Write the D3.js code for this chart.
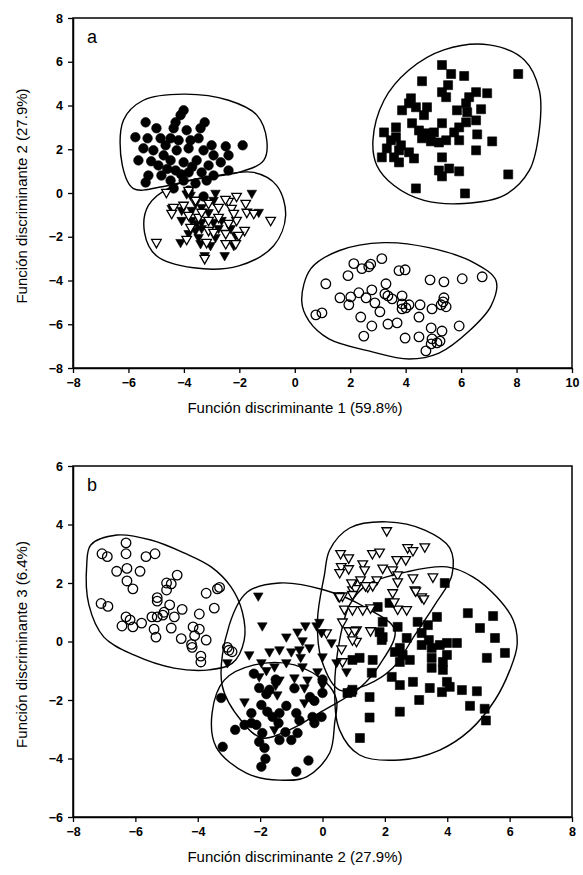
<!DOCTYPE html>
<html>
<head>
<meta charset="utf-8">
<script src="https://cdnjs.cloudflare.com/ajax/libs/d3/7.8.5/d3.min.js"></script>
<style>
    body { margin: 0; background: #fff; }
    text { font-family: Arial, "Liberation Sans", sans-serif; fill: #000; }
</style>
</head>
<body>
<div id="chart"></div>
<script>
(function () {
    'use strict';

    // ---- panel a : función 1 vs función 2 ----
    var aTicksX = [-8, -6, -4, -2, 0, 2, 4, 6, 8, 10];
    var aTicksY = [-8, -6, -4, -2, 0, 2, 4, 6, 8];

    var aFilledCircles = [
        [-4.01, 3.78], [-4.12, 3.56], [-5.38, 3.23], [-3.25, 3.23], [-4.3, 3.23], [-4.99, 2.96],
        [-3.4, 2.96], [-4.37, 2.96], [-3.9, 2.87], [-5.75, 2.55], [-5.31, 2.5], [-4.84, 2.5],
        [-4.48, 2.5], [-3.47, 2.5], [-3.0, 2.18], [-2.49, 2.13], [-1.88, 2.18], [-5.46, 2.04],
        [-5.1, 1.95], [-4.73, 1.72], [-4.26, 1.95], [-3.83, 2.04], [-3.29, 1.95], [-2.93, 1.72],
        [-4.92, 1.26], [-4.48, 1.49], [-4.01, 1.4], [-3.54, 1.49], [-3.11, 1.26], [-2.67, 1.4],
        [-5.28, 0.8], [-4.81, 0.8], [-4.3, 1.03], [-3.83, 0.94], [-3.36, 0.94], [-2.93, 0.8],
        [-2.39, 1.03], [-5.38, 0.48], [-4.48, 0.57], [-4.01, 0.57], [-3.58, 0.44], [-3.18, 0.57],
        [-4.37, 0.21], [-3.83, 0.11], [-2.39, 1.72], [-4.66, 2.18], [-4.19, 2.41], [-3.76, 2.41],
        [-5.64, 1.49], [-5.18, 1.45], [-3.29, -0.16], [-4.6, 1.1], [-3.7, 1.2], [-4.1, 0.85]
    ];
    var aFilledTriangles = [
        [-3.76, -0.11], [-3.9, -0.05], [-1.55, -0.02], [-2.86, -0.02], [-2.93, -0.34], [-3.58, -0.48],
        [-3.36, -0.67], [-4.08, -0.8], [-4.44, -0.71], [-1.3, -0.89], [-4.08, -1.26], [-3.72, -1.26],
        [-3.36, -1.35], [-2.93, -1.35], [-2.64, -1.26], [-3.58, -1.72], [-3.36, -1.63], [-2.75, -1.63],
        [-2.31, -1.63], [-3.83, -1.86], [-3.47, -2.04], [-2.86, -2.04], [-2.13, -1.95], [-4.12, -2.27],
        [-3.4, -2.32], [-3.04, -2.41], [-2.2, -2.41], [-3.25, -2.87], [-2.53, -2.87], [-3.72, -0.8],
        [-3.11, -0.9], [-3.54, -1.4]
    ];
    var aOpenTriangles = [
        [-4.63, 0.02], [-3.83, 0.11], [-2.1, -0.16], [-2.39, -0.39], [-2.5, -0.3], [-4.37, -0.67],
        [-4.01, -0.57], [-3.11, -0.48], [-2.75, -0.67], [-2.28, -0.71], [-1.73, -0.89], [-1.48, -0.94],
        [-0.87, -1.26], [-3.11, -1.26], [-3.47, -1.12], [-2.1, -1.26], [-2.39, -1.4], [-3.76, -1.58],
        [-3.11, -1.72], [-1.81, -1.72], [-2.02, -1.95], [-2.49, -1.86], [-4.99, -2.27], [-3.9, -2.13],
        [-3.18, -2.27], [-2.49, -2.32], [-2.13, -2.32], [-3.25, -3.0], [-3.58, -0.34], [-2.93, -1.81],
        [-2.2, -0.94], [-2.75, -1.12], [-3.36, -0.89], [-3.83, -1.03], [-4.44, -0.94], [-1.77, -0.48]
    ];
    var aSquares = [
        [5.31, 5.85], [5.64, 5.44], [6.11, 5.35], [4.59, 5.11], [8.06, 5.44], [5.53, 4.93],
        [5.31, 4.61], [5.46, 4.38], [6.54, 4.61], [6.94, 4.56], [6.29, 4.38], [6.18, 4.1],
        [4.19, 4.33], [4.12, 4.1], [3.87, 3.78], [4.37, 3.92], [4.77, 3.92], [4.66, 3.56],
        [5.85, 3.78], [6.22, 3.69], [6.72, 3.83], [6.54, 3.32], [6.18, 3.23], [5.93, 3.0],
        [5.31, 3.19], [4.23, 3.19], [5.75, 2.77], [3.22, 2.77], [3.65, 3.0], [4.48, 2.86],
        [4.73, 2.73], [5.02, 2.77], [4.59, 2.5], [4.91, 2.36], [5.2, 2.31], [5.46, 2.41],
        [5.93, 2.41], [6.58, 2.68], [7.12, 2.36], [3.47, 2.41], [3.65, 2.55], [3.83, 2.18],
        [3.32, 2.04], [3.76, 1.95], [4.12, 1.86], [3.14, 1.63], [3.58, 1.63], [4.3, 1.58],
        [3.76, 1.4], [6.54, 1.95], [5.31, 1.63], [5.2, 1.03], [5.57, 1.12], [5.93, 0.99],
        [5.31, 0.76], [7.7, 0.85], [4.37, 0.21], [6.14, -0.02]
    ];
    var aOpenCircles = [
        [3.14, -3.0], [2.13, -3.23], [2.42, -3.46], [2.67, -3.37], [2.74, -3.25], [1.92, -3.78],
        [3.76, -3.55], [3.98, -3.51], [1.12, -4.15], [3.29, -4.15], [4.88, -3.97], [5.38, -4.06],
        [6.04, -3.92], [6.76, -3.83], [1.63, -4.79], [2.02, -4.75], [2.31, -4.56], [2.57, -4.79],
        [2.78, -4.43], [3.25, -4.61], [3.36, -4.7], [3.51, -4.84], [3.87, -4.7], [2.89, -5.02],
        [1.95, -5.11], [3.87, -5.07], [3.87, -5.3], [4.01, -5.25], [4.12, -5.11], [4.52, -5.11],
        [3.07, -5.43], [4.95, -5.3], [5.28, -5.11], [5.38, -4.79], [5.46, -5.2], [5.35, -4.98],
        [0.76, -5.57], [0.98, -5.48], [2.38, -5.67], [4.48, -5.67], [2.78, -6.08], [3.36, -5.99],
        [3.69, -5.94], [4.92, -6.17], [5.93, -6.08], [5.31, -6.31], [2.49, -6.54], [3.98, -6.63],
        [4.48, -6.58], [4.95, -6.67], [5.24, -6.77], [5.13, -6.85], [4.92, -6.9], [4.73, -7.22]
    ];

    // contornos de grupo (coordenadas de datos)
    var aHullCircles = [
        [-6.18, 3.33], [-5.46, 4.24], [-4.01, 4.52], [-2.39, 4.24], [-1.37, 3.56], [-1.01, 2.41],
        [-1.12, 1.49], [-2.02, 0.94], [-3.47, 0.67], [-4.73, 0.3], [-5.82, 0.2], [-6.22, 1.26]
    ];
    var aHullTriangles = [
        [-5.28, -0.57], [-4.37, 0.34], [-2.93, 0.76], [-1.48, 0.94], [-0.65, 0.34], [-0.33, -1.03],
        [-0.76, -2.41], [-2.02, -3.33], [-3.65, -3.42], [-4.99, -2.87], [-5.42, -1.81]
    ];
    var aHullSquares = [
        [2.82, 2.41], [3.22, 4.24], [4.12, 5.62], [5.38, 6.54], [7.01, 6.77], [8.28, 6.08],
        [8.82, 4.7], [8.82, 2.87], [8.46, 1.03], [7.55, -0.11], [6.11, -0.48], [4.66, -0.34],
        [3.58, 0.34], [2.96, 1.26]
    ];
    var aHullOpen = [
        [0.25, -4.93], [0.58, -3.46], [1.59, -2.64], [3.22, -2.27], [4.84, -2.5], [6.47, -3.19],
        [7.26, -4.01], [7.08, -5.16], [6.29, -6.31], [5.2, -7.32], [4.12, -7.59], [2.67, -7.22],
        [1.23, -6.67], [0.51, -5.85]
    ];

    // ---- panel b : función 2 vs función 3 ----
    var bTicksX = [-8, -6, -4, -2, 0, 2, 4, 6, 8];
    var bTicksY = [-6, -4, -2, 0, 2, 4, 6];

    var bOpenCircles = [
        [-6.3, 3.37], [-7.07, 3.0], [-6.9, 2.9], [-6.3, 3.0], [-5.66, 2.9], [-5.37, 3.0],
        [-6.6, 2.4], [-6.27, 2.5], [-5.85, 2.4], [-6.27, 2.07], [-6.08, 1.8], [-4.66, 2.27],
        [-5.0, 2.0], [-4.85, 1.97], [-5.0, 1.76], [-5.3, 1.5], [-5.3, 1.38], [-7.1, 1.3],
        [-6.88, 1.2], [-4.9, 1.25], [-4.5, 1.1], [-5.08, 1.0], [-5.3, 0.84], [-5.47, 0.84],
        [-5.12, 0.9], [-4.75, 0.84], [-6.3, 0.84], [-6.17, 0.74], [-6.43, 0.53], [-6.08, 0.5],
        [-5.8, 0.63], [-5.4, 0.42], [-5.34, 0.15], [-4.85, 0.46], [-4.53, 0.1], [-4.15, 0.5],
        [-3.95, 0.42], [-4.1, 0.2], [-3.95, 0.94], [-3.73, 0.05], [-3.73, 1.65], [-3.37, 1.8],
        [-3.3, 1.85], [-3.47, 1.14], [-4.2, -0.1], [-3.05, -0.2], [-4.18, -0.2], [-3.9, -0.5],
        [-3.9, -0.7], [-3.0, -0.3], [-2.9, -0.35]
    ];
    var bOpenTriangles = [
        [2.06, 3.78], [3.28, 3.23], [2.73, 3.2], [2.9, 3.1], [1.6, 3.0], [1.83, 3.05],
        [0.58, 3.0], [0.84, 2.85], [2.38, 2.79], [2.67, 2.79], [1.29, 2.65], [0.6, 2.55],
        [0.84, 2.48], [1.35, 2.44], [1.93, 2.5], [2.25, 2.44], [2.41, 2.27], [2.9, 2.17],
        [3.54, 2.2], [1.74, 2.1], [1.22, 2.1], [0.96, 1.97], [2.41, 2.03], [1.45, 1.86],
        [2.96, 1.76], [0.96, 1.76], [2.25, 1.66], [0.51, 1.55], [3.18, 1.52], [2.99, 1.72],
        [3.25, 1.45], [2.7, 1.08], [2.41, 1.1], [2.3, 1.35], [1.61, 1.9], [1.38, 1.9],
        [1.06, 1.8], [0.93, 2.0], [0.55, 2.35], [1.54, 1.14], [0.64, 1.55], [0.7, 1.1],
        [0.96, 1.08], [1.29, 1.08], [1.09, 0.39], [0.84, 0.36], [1.54, 0.36], [1.09, 0.0],
        [0.61, -0.26], [0.55, 1.53], [0.96, 1.6], [0.64, 0.66], [1.03, 0.36], [0.13, 0.29],
        [0.96, 0.05], [0.64, -0.7]
    ];
    var bFilledTriangles = [
        [-2.06, 1.55], [-1.93, 0.53], [-0.55, 0.53], [-0.8, 0.32], [-1.16, 0.15], [-0.64, 0.02],
        [-0.19, 0.53], [-0.03, 0.3], [0.29, -0.05], [-2.35, -0.46], [-3.05, -0.73], [-1.7, -0.36],
        [-1.38, -0.29], [-1.0, -0.36], [-0.74, -0.29], [-0.42, -0.22], [0.0, -0.53], [-1.96, -0.73],
        [-1.54, -0.87], [-1.16, -0.73], [-0.64, -0.87], [-0.16, -1.04], [0.45, -0.73], [0.77, -1.04],
        [-2.03, -1.21], [-1.38, -1.32], [-0.9, -1.25], [-0.48, -1.32], [0.0, -1.49], [-2.5, -2.07],
        [-1.45, -1.83], [-0.58, -1.59], [-0.58, -2.1], [-1.54, -3.02], [-1.5, -1.5], [-0.1, 0.65],
        [-0.7, -0.55], [-1.8, -1.0]
    ];
    var bFilledCircles = [
        [-3.25, -1.93], [-3.2, -3.6], [-2.8, -3.02], [-2.5, -2.85], [-2.28, -2.79], [-2.12, -2.85],
        [-2.28, -2.45], [-1.96, -2.17], [-1.77, -2.4], [-1.6, -2.58], [-1.38, -2.45], [-1.16, -2.2],
        [-1.41, -2.79], [-1.93, -3.13], [-2.03, -3.43], [-1.86, -3.64], [-1.83, -4.01], [-1.96, -4.28],
        [-1.38, -3.37], [-1.0, -3.37], [-1.19, -3.1], [-0.8, -3.13], [-0.84, -2.45], [-0.74, -2.7],
        [-0.32, -2.58], [-0.03, -2.58], [-0.26, -2.79], [-0.26, -2.03], [0.0, -1.76], [-2.03, -1.59],
        [-1.7, -1.65], [-0.84, -4.45], [-0.45, -4.07], [-2.2, -1.1], [-1.5, -1.3], [-0.9, -1.6],
        [-1.8, -1.8], [-0.4, -1.9], [0.0, -1.3]
    ];
    var bSquares = [
        [3.92, 2.0], [4.66, 0.97], [5.47, 0.87], [5.05, 0.46], [5.53, 0.12], [5.85, -0.39],
        [5.27, -0.56], [3.67, 0.84], [3.38, 0.56], [3.05, 0.67], [2.41, 0.5], [1.93, 0.67],
        [1.77, 1.18], [2.15, 1.32], [1.83, 0.32], [1.9, 0.05], [2.7, 0.12], [3.18, 0.29],
        [3.41, 0.05], [3.18, -0.12], [3.5, -0.22], [3.76, -0.12], [3.99, -0.05], [4.31, -0.05],
        [2.48, -0.22], [2.32, -0.36], [2.57, -0.46], [2.8, -0.63], [2.48, -0.7], [3.5, -0.56],
        [3.99, -0.46], [3.86, -0.7], [3.5, -0.9], [3.86, -0.97], [1.61, -0.63], [1.58, -1.07],
        [2.22, -1.21], [2.48, -1.49], [2.9, -1.38], [3.44, -1.59], [3.99, -1.38], [4.08, -1.55],
        [4.47, -1.66], [3.83, -1.73], [0.96, -0.63], [1.19, -0.56], [0.93, -1.73], [1.51, -1.9],
        [1.93, 0.15], [1.51, -2.6], [2.48, -2.4], [3.1, -2.0], [4.73, -2.2], [5.2, -2.3],
        [5.24, -2.7], [4.95, -1.7], [1.2, -3.3], [0.8, -1.76], [0.96, -1.65]
    ];

    var bHullOpen = [
        [-7.43, 3.3], [-6.59, 3.64], [-5.5, 3.47], [-4.44, 3.03], [-3.57, 2.55], [-2.93, 1.86],
        [-2.57, 1.01], [-2.51, 0.05], [-2.89, -0.74], [-3.63, -0.97], [-4.76, -0.91], [-6.05, -0.46],
        [-7.01, 0.15], [-7.49, 1.25], [-7.56, 2.62]
    ];
    var bHullFilledTri = [
        [-3.22, -1.49], [-2.99, 0.56], [-2.41, 1.69], [-1.38, 2.0], [0.06, 1.76], [1.35, 1.18],
        [2.32, 0.39], [1.83, -0.8], [1.19, -1.59], [-0.1, -2.44], [-1.06, -3.02], [-1.93, -3.3],
        [-2.57, -2.75]
    ];
    var bHullOpenTri = [
        [0.23, 3.13], [0.87, 3.88], [2.06, 4.09], [3.28, 3.81], [4.08, 3.2], [4.15, 2.27],
        [3.6, 1.25], [2.96, 0.22], [2.25, -0.91], [1.41, -1.49], [0.55, -1.66], [-0.03, -0.63],
        [-0.16, 0.74], [0.06, 2.27]
    ];
    var bHullSquares = [
        [1.41, 1.93], [2.7, 2.38], [3.99, 2.55], [4.82, 2.21], [5.59, 1.52], [6.11, 0.74],
        [6.24, -0.12], [6.01, -0.97], [5.53, -2.0], [4.73, -3.03], [3.76, -3.71], [2.48, -4.05],
        [1.19, -3.88], [0.55, -3.03], [0.39, -1.66], [0.55, 0.05], [0.87, 1.25]
    ];
    var bHullCircles = [
        [-3.15, -1.32], [-3.54, -2.44], [-3.41, -3.61], [-2.44, -4.5], [-1.38, -4.74], [-0.51, -4.63],
        [0.23, -3.81], [0.39, -2.79], [0.45, -2.0], [0.13, -1.42], [-0.9, -0.8], [-2.19, -0.8]
    ];

    var width = 583;
    var height = 875;

    var svg = d3.select('#chart')
        .append('svg')
        .attr('width', width)
        .attr('height', height);

    drawPanel({
        top: 18, bottom: 368, left: 73, right: 572,
        xDomain: [-8, 10], yDomain: [-8, 8],
        xTicks: aTicksX, yTicks: aTicksY,
        letter: 'a',
        xTitle: 'Función discriminante 1 (59.8%)',
        yTitle: 'Función discriminante 2 (27.9%)',
        hulls: [aHullCircles, aHullTriangles, aHullSquares, aHullOpen],
        layers: [
            { data: aOpenCircles, shape: 'circle', filled: false },
            { data: aSquares, shape: 'square', filled: true },
            { data: aFilledCircles, shape: 'circle', filled: true },
            { data: aFilledTriangles, shape: 'tri', filled: true },
            { data: aOpenTriangles, shape: 'tri', filled: false }
        ]
    });

    drawPanel({
        top: 466, bottom: 817, left: 73, right: 572,
        xDomain: [-8, 8], yDomain: [-6, 6],
        xTicks: bTicksX, yTicks: bTicksY,
        letter: 'b',
        xTitle: 'Función discriminante 2 (27.9%)',
        yTitle: 'Función discriminante 3 (6.4%)',
        hulls: [bHullOpen, bHullFilledTri, bHullOpenTri, bHullSquares, bHullCircles],
        layers: [
            { data: bOpenCircles, shape: 'circle', filled: false },
            { data: bSquares, shape: 'square', filled: true },
            { data: bOpenTriangles, shape: 'tri', filled: false },
            { data: bFilledCircles, shape: 'circle', filled: true },
            { data: bFilledTriangles, shape: 'tri', filled: true }
        ]
    });

    function drawPanel(p) {
        var x = d3.scaleLinear().domain(p.xDomain).range([p.left, p.right]);
        var y = d3.scaleLinear().domain(p.yDomain).range([p.bottom, p.top]);
        var g = svg.append('g');

        var xAxis = g.append('g')
            .attr('transform', 'translate(0,' + p.bottom + ')')
            .call(d3.axisBottom(x).tickValues(p.xTicks).tickSize(5).tickPadding(5).tickSizeOuter(0));
        var yAxis = g.append('g')
            .attr('transform', 'translate(' + p.left + ',0)')
            .call(d3.axisLeft(y).tickValues(p.yTicks).tickSize(5).tickPadding(5).tickSizeOuter(0));
        styleAxis(xAxis);
        styleAxis(yAxis);

        g.append('rect')
            .attr('x', p.left)
            .attr('y', p.top)
            .attr('width', p.right - p.left)
            .attr('height', p.bottom - p.top)
            .attr('fill', 'none')
            .attr('stroke', '#000')
            .attr('stroke-width', 1.5);

        var line = d3.line()
            .x(function (d) { return x(d[0]); })
            .y(function (d) { return y(d[1]); })
            .curve(d3.curveCatmullRomClosed.alpha(0.5));

        g.selectAll('path.hull')
            .data(p.hulls)
            .enter()
            .append('path')
            .attr('class', 'hull')
            .attr('d', line)
            .attr('fill', 'none')
            .attr('stroke', '#000')
            .attr('stroke-width', 1.4);

        p.layers.forEach(function (layer) {
            g.append('g')
                .selectAll('path')
                .data(layer.data)
                .enter()
                .append('path')
                .attr('d', shapePath(layer.shape))
                .attr('transform', function (d) {
                    return 'translate(' + x(d[0]) + ',' + y(d[1]) + ')';
                })
                .attr('fill', layer.filled ? '#000' : (layer.shape === 'tri' ? '#fff' : 'none'))
                .attr('stroke', '#000')
                .attr('stroke-width', layer.filled ? 0.6 : 1.3);
        });

        g.append('text')
            .attr('x', p.left + 14)
            .attr('y', p.top + 25)
            .attr('font-size', 18)
            .text(p.letter);

        g.append('text')
            .attr('x', p.left + 222)
            .attr('y', p.bottom + 45)
            .attr('text-anchor', 'middle')
            .attr('font-size', 15)
            .text(p.xTitle);

        g.append('text')
            .attr('transform', 'translate(27,' + ((p.top + p.bottom) / 2 + 3) + ') rotate(-90)')
            .attr('text-anchor', 'middle')
            .attr('font-size', 15)
            .text(p.yTitle);
    }

    function styleAxis(axis) {
        axis.select('.domain').attr('stroke-width', 1.5);
        axis.selectAll('.tick line').attr('stroke-width', 1.3);
        axis.selectAll('.tick text')
            .attr('font-size', 12.5)
            .attr('font-weight', 'bold')
            .attr('font-family', 'Arial, "Liberation Sans", sans-serif');
    }

    function shapePath(shape) {
        if (shape === 'circle') {
            return d3.symbol().type(d3.symbolCircle).size(72)();
        }
        if (shape === 'square') {
            return 'M-4.5,-4.5H4.5V4.5H-4.5Z';
        }
        // triángulo con vértice hacia abajo
        return 'M-4.8,-3.2L4.8,-3.2L0,5.2Z';
    }

}());
</script>
</body>
</html>
